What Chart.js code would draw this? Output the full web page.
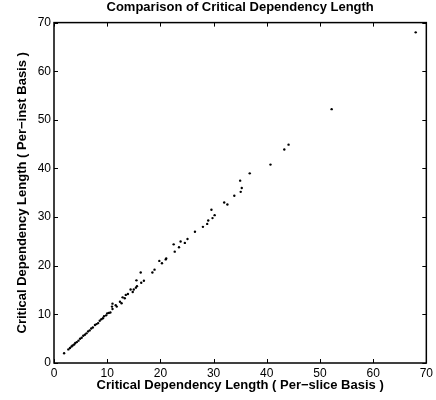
<!DOCTYPE html>
<html>
<head>
<meta charset="utf-8">
<script src="https://cdn.jsdelivr.net/npm/chart.js@4"></script>
<style>
    html, body { margin: 0; padding: 0; background: #fff; }
    #wrap { width: 436px; height: 400px; position: relative; }
</style>
</head>
<body>
<div id="wrap"><canvas id="cdl-chart"></canvas></div>
<script>
// Critical dependency length: per-slice basis (x) vs per-inst basis (y)
const perSlice = [
    1.9, 2.7, 3.0, 3.3, 3.5, 3.8, 4.0, 4.3, 4.6, 4.9,
    5.2, 5.5, 5.8, 6.1, 6.4, 6.7, 7.0, 7.3, 7.7, 8.0,
    8.3, 8.6, 8.9, 9.2, 9.4, 9.8, 10.0, 10.3, 10.6, 10.9,
    11.0, 11.0, 11.6, 11.8, 12.4, 12.7, 12.9, 13.3, 13.5, 13.9,
    14.4, 14.8, 15.0, 15.4, 15.6, 15.5, 16.3, 16.4, 16.9, 18.5,
    18.9, 19.8, 20.3, 21.0, 21.1, 22.5, 22.7, 23.5, 23.8, 24.6,
    25.1, 26.5, 28.0, 28.8, 29.0, 29.6, 29.8, 30.2, 32.0, 32.6,
    33.9, 35.1, 35.3, 35.0, 36.8, 40.7, 43.3, 44.1, 52.2, 68.0
];
const perInst = [
    2.0, 2.8, 3.1, 3.4, 3.6, 3.8, 4.1, 4.3, 4.6, 5.0,
    5.2, 5.6, 5.8, 6.1, 6.5, 6.7, 7.1, 7.3, 7.8, 8.0,
    8.2, 8.7, 9.0, 9.2, 9.6, 9.8, 10.2, 10.3, 10.4, 11.6,
    11.1, 12.2, 11.9, 11.6, 12.6, 12.3, 13.5, 13.3, 14.0, 14.2,
    15.1, 14.6, 15.1, 15.5, 15.8, 17.0, 18.6, 16.5, 16.9, 18.6,
    19.2, 21.0, 20.5, 21.3, 21.5, 24.4, 22.9, 23.8, 25.0, 24.7,
    25.5, 27.0, 28.0, 28.6, 29.3, 31.5, 29.8, 30.4, 33.0, 32.6,
    34.4, 35.2, 36.0, 37.5, 39.0, 40.8, 43.9, 44.9, 52.2, 68.0
];
const tickValues = [0, 10, 20, 30, 40, 50, 60, 70];

const titleText = 'Comparison of Critical Dependency Length';
const xTitle = 'Critical Dependency Length ( Per\u2212slice Basis )';
const yTitle = 'Critical Dependency Length ( Per\u2212inst Basis )';

const FONT = '"Liberation Sans", Arial, Helvetica, sans-serif';

// MATLAB-like box with inward ticks on all four sides
const boxPlugin = {
    id: 'boxTicks',
    afterDraw(chart) {
        const { ctx, chartArea, scales } = chart;
        const { left, right, top, bottom } = chartArea;
        ctx.save();
        ctx.strokeStyle = '#000';
        ctx.lineWidth = 1;
        ctx.beginPath();
        tickValues.forEach(v => {
            const x = Math.round(scales.x.getPixelForValue(v)) + 0.5;
            ctx.moveTo(x, bottom);
            ctx.lineTo(x, bottom - 4);
            ctx.moveTo(x, top);
            ctx.lineTo(x, top + 4);
            const y = Math.round(scales.y.getPixelForValue(v)) + 0.5;
            ctx.moveTo(left, y);
            ctx.lineTo(left + 4, y);
            ctx.moveTo(right, y);
            ctx.lineTo(right - 4, y);
        });
        ctx.stroke();
        ctx.lineWidth = 1.5;
        ctx.strokeRect(left, top, right - left, bottom - top);
        ctx.restore();
    }
};

const points = perSlice.map((x, i) => ({ x: x, y: perInst[i] }));

new Chart(document.getElementById('cdl-chart'), {
    type: 'scatter',
    data: {
        datasets: [{
            data: points,
            backgroundColor: '#000',
            borderColor: '#000',
            borderWidth: 0,
            pointRadius: 1.2,
            pointHoverRadius: 1.2
        }]
    },
    options: {
        responsive: true,
        maintainAspectRatio: false,
        animation: false,
        layout: { padding: { left: 0, right: 8, top: 0, bottom: 0 } },
        plugins: {
            legend: { display: false },
            tooltip: { enabled: false },
            title: {
                display: true,
                fullSize: false,
                text: titleText,
                color: '#000',
                font: { family: FONT, size: 13, weight: 'bold' },
                padding: { top: 0, bottom: 7 }
            }
        },
        scales: {
            x: {
                type: 'linear',
                min: 0,
                max: 70,
                afterBuildTicks: axis => { axis.ticks = tickValues.map(v => ({ value: v })); },
                afterFit: axis => { axis.height = 37; },
                ticks: {
                    color: '#000',
                    font: { family: FONT, size: 12 },
                    padding: 3,
                    maxRotation: 0
                },
                grid: { display: false, drawTicks: false },
                border: { display: false },
                title: {
                    display: true,
                    text: xTitle,
                    color: '#000',
                    font: { family: FONT, size: 13, weight: 'bold' },
                    padding: { top: 0, bottom: 7 }
                }
            },
            y: {
                type: 'linear',
                min: 0,
                max: 70,
                afterBuildTicks: axis => { axis.ticks = tickValues.map(v => ({ value: v })); },
                afterFit: axis => { axis.width = 54; },
                ticks: {
                    color: '#000',
                    font: { family: FONT, size: 12 },
                    padding: 3
                },
                grid: { display: false, drawTicks: false },
                border: { display: false },
                title: {
                    display: true,
                    text: yTitle,
                    color: '#000',
                    font: { family: FONT, size: 13, weight: 'bold' },
                    padding: { top: 15, bottom: 0 }
                }
            }
        }
    },
    plugins: [boxPlugin]
});
</script>
</body>
</html>
